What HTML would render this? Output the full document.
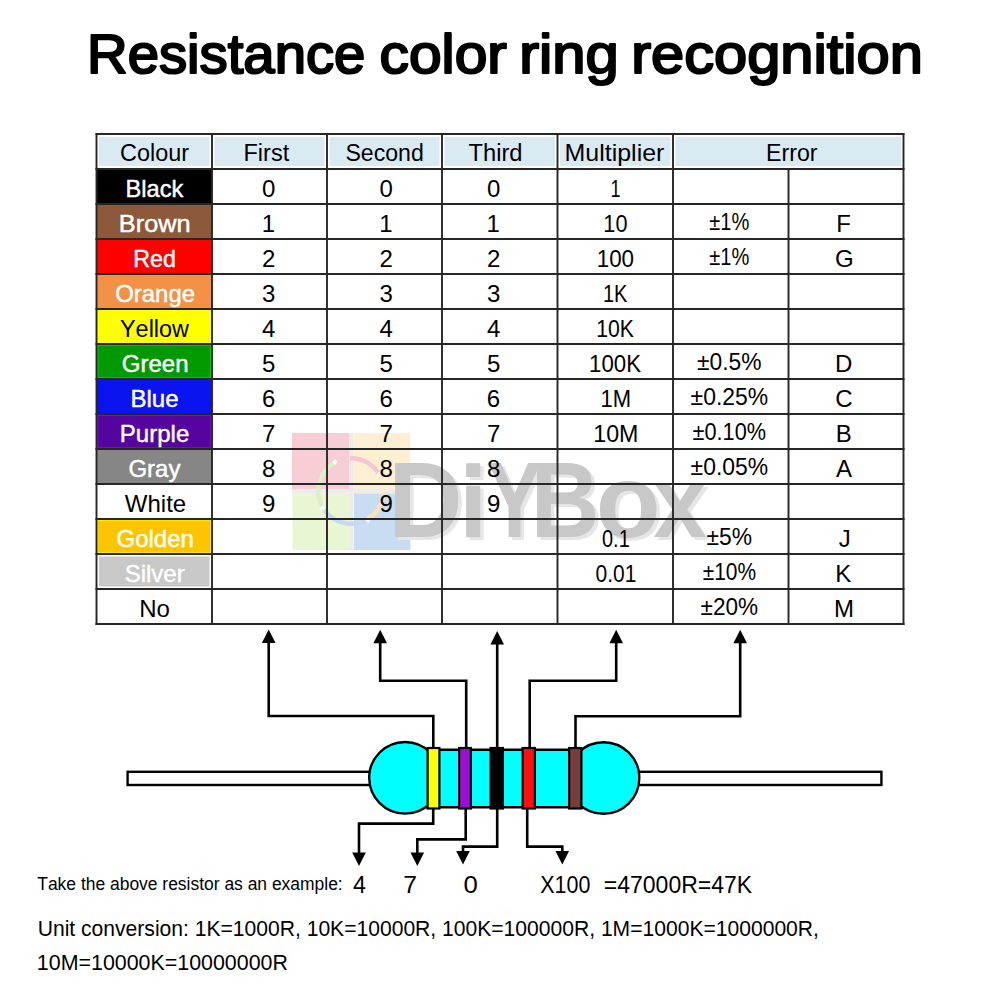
<!DOCTYPE html>
<html><head><meta charset="utf-8"><title>Resistance color ring recognition</title>
<style>
html,body{margin:0;padding:0;background:#fff;}
body{width:1000px;height:1000px;overflow:hidden;}
svg{display:block;font-family:"Liberation Sans",sans-serif;font-kerning:none;}
text{font-family:"Liberation Sans",sans-serif;}
</style></head><body>
<svg width="1000" height="1000" viewBox="0 0 1000 1000">
<rect width="1000" height="1000" fill="#fff"/>
<g id="cells">
<rect x="99.00" y="137.00" width="110.50" height="29.00" fill="#daeaf3"/>
<rect x="214.50" y="137.00" width="110.00" height="29.00" fill="#daeaf3"/>
<rect x="329.50" y="137.00" width="110.00" height="29.00" fill="#daeaf3"/>
<rect x="444.50" y="137.00" width="110.50" height="29.00" fill="#daeaf3"/>
<rect x="560.00" y="137.00" width="110.50" height="29.00" fill="#daeaf3"/>
<rect x="675.50" y="137.00" width="225.50" height="29.00" fill="#daeaf3"/>
<rect x="96.50" y="169.00" width="115.50" height="35.00" fill="#000000"/>
<rect x="96.50" y="204.00" width="115.50" height="35.00" fill="#8c5a3a"/>
<rect x="96.50" y="239.00" width="115.50" height="35.00" fill="#ff0000"/>
<rect x="96.50" y="274.00" width="115.50" height="35.00" fill="#f39247"/>
<rect x="96.50" y="309.00" width="115.50" height="35.00" fill="#ffff00"/>
<rect x="96.50" y="344.00" width="115.50" height="35.00" fill="#00d800"/>
<rect x="98.30" y="345.80" width="111.90" height="31.40" fill="#009a00"/>
<rect x="96.50" y="379.00" width="115.50" height="35.00" fill="#0a14f0"/>
<rect x="96.50" y="414.00" width="115.50" height="35.00" fill="#7a10e0"/>
<rect x="98.30" y="415.80" width="111.90" height="31.40" fill="#55049f"/>
<rect x="96.50" y="449.00" width="115.50" height="35.00" fill="#868686"/>
<rect x="96.50" y="484.00" width="115.50" height="35.00" fill="#ffffff"/>
<rect x="96.50" y="519.00" width="115.50" height="35.00" fill="#ffee00"/>
<rect x="98.30" y="520.80" width="111.90" height="31.40" fill="#ffc400"/>
<rect x="96.50" y="554.00" width="115.50" height="35.00" fill="#ffffff"/>
<rect x="99.00" y="556.50" width="110.50" height="30.00" fill="#c8c8c8"/>
<rect x="96.50" y="589.00" width="115.50" height="35.00" fill="#ffffff"/>
</g>
<g id="wm">
<rect x="349" y="433" width="4.5" height="117" fill="#ececec"/>
<rect x="292" y="489" width="118.5" height="4.5" fill="#ececec"/>
<rect x="292" y="433" width="57" height="56" fill="#f7cdd6"/>
<rect x="353.5" y="433" width="56.5" height="56" fill="#fdefd2"/>
<rect x="292.5" y="493.5" width="57" height="56.5" fill="#e9f6d3"/>
<rect x="354" y="493.5" width="56.5" height="56.5" fill="#c9ddf2"/>
<path d="M349.86 458.32 A32.70 32.70 0 0 1 379.32 474.65" stroke="#f6c6d2" stroke-width="4.5" fill="none"/>
<path d="M322.97 507.84 A32.70 32.70 0 0 1 335.15 462.40" stroke="#ddefc6" stroke-width="4.5" fill="none"/>
<path d="M367.35 519.32 A32.70 32.70 0 0 1 322.97 507.84" stroke="#c6d9ef" stroke-width="4.5" fill="none"/>
<path d="M383.68 492.14 A32.70 32.70 0 0 1 367.35 519.32" stroke="#fbe4bd" stroke-width="4.5" fill="none"/>
<rect x="333.0" y="460.0" width="4" height="4" fill="#fff" transform="rotate(35 335.0 462.0)"/>
<rect x="377.0" y="472.5" width="4" height="4" fill="#fff" transform="rotate(35 379.0 474.5)"/>
<rect x="321.0" y="506.0" width="4" height="4" fill="#fff" transform="rotate(35 323.0 508.0)"/>
<rect x="366.0" y="518.0" width="4" height="4" fill="#fff" transform="rotate(35 368.0 520.0)"/>
<text transform="translate(391.72 540.20) scale(0.05024 0.05252)" font-size="2048" font-weight="bold" fill="#e6e6e6">D</text>
<rect x="469.70" y="466.20" width="14" height="13.8" fill="#e6e6e6"/>
<rect x="469.70" y="488.75" width="14" height="51.45" fill="#e6e6e6"/>
<text transform="translate(490.59 540.20) scale(0.04029 0.05252)" font-size="2048" font-weight="bold" fill="#e6e6e6">Y</text>
<text transform="translate(534.33 540.20) scale(0.04652 0.05252)" font-size="2048" font-weight="bold" fill="#e6e6e6">B</text>
<text transform="translate(599.36 539.78) scale(0.05179 0.05080)" font-size="2048" font-weight="bold" fill="#e6e6e6">o</text>
<text transform="translate(656.84 540.20) scale(0.04685 0.04843)" font-size="2048" font-weight="bold" fill="#e6e6e6">x</text>
<text transform="translate(388.22 537.20) scale(0.05024 0.05252)" font-size="2048" font-weight="bold" fill="#c8c8c8">D</text>
<rect x="466.20" y="463.20" width="14" height="13.8" fill="#c8c8c8"/>
<rect x="466.20" y="485.75" width="14" height="51.45" fill="#c8c8c8"/>
<text transform="translate(487.09 537.20) scale(0.04029 0.05252)" font-size="2048" font-weight="bold" fill="#c8c8c8">Y</text>
<text transform="translate(530.83 537.20) scale(0.04652 0.05252)" font-size="2048" font-weight="bold" fill="#c8c8c8">B</text>
<text transform="translate(595.86 536.78) scale(0.05179 0.05080)" font-size="2048" font-weight="bold" fill="#c8c8c8">o</text>
<text transform="translate(653.34 537.20) scale(0.04685 0.04843)" font-size="2048" font-weight="bold" fill="#c8c8c8">x</text>
</g>
<g stroke="#262626" stroke-width="1.9"><line x1="95.50" y1="134.00" x2="904.50" y2="134.00"/>
<line x1="95.50" y1="169.00" x2="904.50" y2="169.00"/>
<line x1="95.50" y1="204.00" x2="904.50" y2="204.00"/>
<line x1="95.50" y1="239.00" x2="904.50" y2="239.00"/>
<line x1="95.50" y1="274.00" x2="904.50" y2="274.00"/>
<line x1="95.50" y1="309.00" x2="904.50" y2="309.00"/>
<line x1="95.50" y1="344.00" x2="904.50" y2="344.00"/>
<line x1="95.50" y1="379.00" x2="904.50" y2="379.00"/>
<line x1="95.50" y1="414.00" x2="904.50" y2="414.00"/>
<line x1="95.50" y1="449.00" x2="904.50" y2="449.00"/>
<line x1="95.50" y1="484.00" x2="904.50" y2="484.00"/>
<line x1="95.50" y1="519.00" x2="904.50" y2="519.00"/>
<line x1="95.50" y1="554.00" x2="904.50" y2="554.00"/>
<line x1="95.50" y1="589.00" x2="904.50" y2="589.00"/>
<line x1="95.50" y1="624.00" x2="904.50" y2="624.00"/>
<line x1="96.50" y1="133.00" x2="96.50" y2="625.00"/>
<line x1="212.00" y1="133.00" x2="212.00" y2="625.00"/>
<line x1="327.00" y1="133.00" x2="327.00" y2="625.00"/>
<line x1="442.00" y1="133.00" x2="442.00" y2="625.00"/>
<line x1="557.50" y1="133.00" x2="557.50" y2="625.00"/>
<line x1="673.00" y1="133.00" x2="673.00" y2="625.00"/>
<line x1="788.50" y1="169.00" x2="788.50" y2="624.00"/>
<line x1="903.50" y1="133.00" x2="903.50" y2="625.00"/></g>
<g id="text">
<text transform="translate(87.08 72.50) scale(1.0011 1)" font-size="56.20" font-weight="normal" fill="#000" stroke="#000" stroke-width="2.2" stroke-linejoin="round">Resistance</text>
<text transform="translate(379.61 72.50) scale(1.0448 1)" font-size="56.20" font-weight="normal" fill="#000" stroke="#000" stroke-width="2.2" stroke-linejoin="round">color</text>
<text transform="translate(519.13 72.50) scale(1.0630 1)" font-size="56.20" font-weight="normal" fill="#000" stroke="#000" stroke-width="2.2" stroke-linejoin="round">ring</text>
<text transform="translate(631.14 72.50) scale(1.0615 1)" font-size="56.20" font-weight="normal" fill="#000" stroke="#000" stroke-width="2.2" stroke-linejoin="round">recognition</text>
<text transform="translate(120.06 161.30) scale(0.9771 1)" font-size="24.00" font-weight="normal" fill="#000">Colour</text>
<text transform="translate(243.47 161.30) scale(0.9796 1)" font-size="24.00" font-weight="normal" fill="#000">First</text>
<text transform="translate(345.45 161.30) scale(0.9637 1)" font-size="24.00" font-weight="normal" fill="#000">Second</text>
<text transform="translate(468.47 161.30) scale(0.9887 1)" font-size="24.00" font-weight="normal" fill="#000">Third</text>
<text transform="translate(564.55 161.30) scale(1.0400 1)" font-size="24.00" font-weight="normal" fill="#000">Multiplier</text>
<text transform="translate(766.10 161.30) scale(0.9654 1)" font-size="24.00" font-weight="normal" fill="#000">Error</text>
<text transform="translate(125.56 197.30) scale(0.9850 1)" font-size="24.00" font-weight="normal" fill="#fff" stroke="#fff" stroke-width="0.45">Black</text>
<text transform="translate(118.82 232.30) scale(1.0574 1)" font-size="24.00" font-weight="normal" fill="#fff" stroke="#fff" stroke-width="0.45">Brown</text>
<text transform="translate(133.29 267.30) scale(0.9676 1)" font-size="24.00" font-weight="normal" fill="#fff" stroke="#fff" stroke-width="0.45">Red</text>
<text transform="translate(115.17 302.30) scale(0.9981 1)" font-size="24.00" font-weight="normal" fill="#fff" stroke="#fff" stroke-width="0.45">Orange</text>
<text transform="translate(119.98 337.30) scale(0.9768 1)" font-size="24.00" font-weight="normal" fill="#000">Yellow</text>
<text transform="translate(121.82 372.30)" font-size="24.00" font-weight="normal" fill="#fff" stroke="#fff" stroke-width="0.45">Green</text>
<text transform="translate(130.53 407.30)" font-size="24.00" font-weight="normal" fill="#fff" stroke="#fff" stroke-width="0.45">Blue</text>
<text transform="translate(119.86 442.30)" font-size="24.00" font-weight="normal" fill="#fff" stroke="#fff" stroke-width="0.45">Purple</text>
<text transform="translate(128.42 477.30)" font-size="24.00" font-weight="normal" fill="#fff" stroke="#fff" stroke-width="0.45">Gray</text>
<text transform="translate(124.81 512.30)" font-size="24.00" font-weight="normal" fill="#000">White</text>
<text transform="translate(116.48 547.30)" font-size="24.00" font-weight="normal" fill="#fff" stroke="#fff" stroke-width="0.45">Golden</text>
<text transform="translate(124.65 582.30)" font-size="24.00" font-weight="normal" fill="#fff" stroke="#fff" stroke-width="0.45">Silver</text>
<text transform="translate(139.18 617.30)" font-size="24.00" font-weight="normal" fill="#000">No</text>
<text transform="translate(262.03 197.30)" font-size="24.00" font-weight="normal" fill="#000">0</text>
<text transform="translate(379.53 197.30)" font-size="24.00" font-weight="normal" fill="#000">0</text>
<text transform="translate(486.93 197.30)" font-size="24.00" font-weight="normal" fill="#000">0</text>
<text transform="translate(610.52 196.60) scale(0.7538 1)" font-size="24.00" font-weight="normal" fill="#000">1</text>
<text transform="translate(261.70 232.30)" font-size="24.00" font-weight="normal" fill="#000">1</text>
<text transform="translate(379.20 232.30)" font-size="24.00" font-weight="normal" fill="#000">1</text>
<text transform="translate(486.60 232.30)" font-size="24.00" font-weight="normal" fill="#000">1</text>
<text transform="translate(603.35 231.60) scale(0.9026 1)" font-size="24.00" font-weight="normal" fill="#000">10</text>
<text transform="translate(709.31 229.60) scale(0.8369 1)" font-size="24.00" font-weight="normal" fill="#000">±1%</text>
<text transform="translate(836.17 232.30)" font-size="24.00" font-weight="normal" fill="#000">F</text>
<text transform="translate(262.03 267.30)" font-size="24.00" font-weight="normal" fill="#000">2</text>
<text transform="translate(379.53 267.30)" font-size="24.00" font-weight="normal" fill="#000">2</text>
<text transform="translate(486.93 267.30)" font-size="24.00" font-weight="normal" fill="#000">2</text>
<text transform="translate(596.69 266.60) scale(0.9335 1)" font-size="24.00" font-weight="normal" fill="#000">100</text>
<text transform="translate(709.31 264.60) scale(0.8369 1)" font-size="24.00" font-weight="normal" fill="#000">±1%</text>
<text transform="translate(834.96 267.30)" font-size="24.00" font-weight="normal" fill="#000">G</text>
<text transform="translate(262.10 302.30)" font-size="24.00" font-weight="normal" fill="#000">3</text>
<text transform="translate(379.60 302.30)" font-size="24.00" font-weight="normal" fill="#000">3</text>
<text transform="translate(487.00 302.30)" font-size="24.00" font-weight="normal" fill="#000">3</text>
<text transform="translate(602.90 301.60) scale(0.8346 1)" font-size="24.00" font-weight="normal" fill="#000">1K</text>
<text transform="translate(262.10 337.30)" font-size="24.00" font-weight="normal" fill="#000">4</text>
<text transform="translate(379.60 337.30)" font-size="24.00" font-weight="normal" fill="#000">4</text>
<text transform="translate(487.00 337.30)" font-size="24.00" font-weight="normal" fill="#000">4</text>
<text transform="translate(596.23 336.60) scale(0.8841 1)" font-size="24.00" font-weight="normal" fill="#000">10K</text>
<text transform="translate(262.05 372.30)" font-size="24.00" font-weight="normal" fill="#000">5</text>
<text transform="translate(379.55 372.30)" font-size="24.00" font-weight="normal" fill="#000">5</text>
<text transform="translate(486.95 372.30)" font-size="24.00" font-weight="normal" fill="#000">5</text>
<text transform="translate(589.11 371.60) scale(0.9267 1)" font-size="24.00" font-weight="normal" fill="#000">100K</text>
<text transform="translate(697.08 369.60) scale(0.9508 1)" font-size="24.00" font-weight="normal" fill="#000">±0.5%</text>
<text transform="translate(834.92 372.30)" font-size="24.00" font-weight="normal" fill="#000">D</text>
<text transform="translate(261.94 407.30)" font-size="24.00" font-weight="normal" fill="#000">6</text>
<text transform="translate(379.44 407.30)" font-size="24.00" font-weight="normal" fill="#000">6</text>
<text transform="translate(486.84 407.30)" font-size="24.00" font-weight="normal" fill="#000">6</text>
<text transform="translate(600.57 406.60) scale(0.9173 1)" font-size="24.00" font-weight="normal" fill="#000">1M</text>
<text transform="translate(690.57 404.60) scale(0.9547 1)" font-size="24.00" font-weight="normal" fill="#000">±0.25%</text>
<text transform="translate(835.18 407.30)" font-size="24.00" font-weight="normal" fill="#000">C</text>
<text transform="translate(262.01 442.30)" font-size="24.00" font-weight="normal" fill="#000">7</text>
<text transform="translate(379.51 442.30)" font-size="24.00" font-weight="normal" fill="#000">7</text>
<text transform="translate(486.91 442.30)" font-size="24.00" font-weight="normal" fill="#000">7</text>
<text transform="translate(593.28 441.60) scale(0.9676 1)" font-size="24.00" font-weight="normal" fill="#000">10M</text>
<text transform="translate(692.61 439.60) scale(0.9045 1)" font-size="24.00" font-weight="normal" fill="#000">±0.10%</text>
<text transform="translate(835.64 442.30)" font-size="24.00" font-weight="normal" fill="#000">B</text>
<text transform="translate(262.03 477.30)" font-size="24.00" font-weight="normal" fill="#000">8</text>
<text transform="translate(379.53 477.30)" font-size="24.00" font-weight="normal" fill="#000">8</text>
<text transform="translate(486.93 477.30)" font-size="24.00" font-weight="normal" fill="#000">8</text>
<text transform="translate(690.57 474.60) scale(0.9547 1)" font-size="24.00" font-weight="normal" fill="#000">±0.05%</text>
<text transform="translate(836.00 477.30)" font-size="24.00" font-weight="normal" fill="#000">A</text>
<text transform="translate(262.03 512.30)" font-size="24.00" font-weight="normal" fill="#000">9</text>
<text transform="translate(379.53 512.30)" font-size="24.00" font-weight="normal" fill="#000">9</text>
<text transform="translate(486.93 512.30)" font-size="24.00" font-weight="normal" fill="#000">9</text>
<text transform="translate(602.02 546.60) scale(0.8319 1)" font-size="24.00" font-weight="normal" fill="#000">0.1</text>
<text transform="translate(706.58 544.60) scale(0.9515 1)" font-size="24.00" font-weight="normal" fill="#000">±5%</text>
<text transform="translate(838.70 547.30)" font-size="24.00" font-weight="normal" fill="#000">J</text>
<text transform="translate(595.48 581.60) scale(0.8744 1)" font-size="24.00" font-weight="normal" fill="#000">0.01</text>
<text transform="translate(702.64 579.60) scale(0.8726 1)" font-size="24.00" font-weight="normal" fill="#000">±10%</text>
<text transform="translate(835.15 582.30)" font-size="24.00" font-weight="normal" fill="#000">K</text>
<text transform="translate(700.58 614.60) scale(0.9398 1)" font-size="24.00" font-weight="normal" fill="#000">±20%</text>
<text transform="translate(834.00 617.30)" font-size="24.00" font-weight="normal" fill="#000">M</text>
<text transform="translate(37.26 889.75) scale(0.9439 1)" font-size="18.50" font-weight="normal" fill="#000">Take the above resistor as an example:</text>
<text transform="translate(352.96 892.50) scale(0.9440 1)" font-size="24.70" font-weight="normal" fill="#000">4</text>
<text transform="translate(403.23 892.50) scale(1.0019 1)" font-size="24.70" font-weight="normal" fill="#000">7</text>
<text transform="translate(463.49 892.50) scale(1.0417 1)" font-size="24.70" font-weight="normal" fill="#000">0</text>
<text transform="translate(540.32 892.50) scale(0.8671 1)" font-size="24.70" font-weight="normal" fill="#000">X100</text>
<text transform="translate(603.78 892.50) scale(0.9320 1)" font-size="24.70" font-weight="normal" fill="#000">=47000R=47K</text>
<text transform="translate(37.72 936.40) scale(0.9503 1)" font-size="22.20" font-weight="normal" fill="#000">Unit conversion: 1K=1000R, 10K=10000R, 100K=100000R, 1M=1000K=1000000R,</text>
<text transform="translate(36.87 970.40) scale(0.9642 1)" font-size="22.20" font-weight="normal" fill="#000">10M=10000K=10000000R</text>
</g>
<g id="res">
<rect x="127.6" y="771.8" width="270" height="13.2" fill="#fff" stroke="#000" stroke-width="2.4"/>
<rect x="610" y="771.8" width="271.4" height="13.2" fill="#fff" stroke="#000" stroke-width="2.4"/>
<circle cx="405" cy="777.8" r="35.8" fill="#00ffff" stroke="#000" stroke-width="2.4"/>
<circle cx="603.5" cy="778" r="35.8" fill="#00ffff" stroke="#000" stroke-width="2.4"/>
<rect x="426" y="749.8" width="157" height="57.4" fill="#00ffff"/>
<line x1="426" y1="749.8" x2="583" y2="749.8" stroke="#000" stroke-width="2.4"/>
<line x1="426" y1="807.2" x2="583" y2="807.2" stroke="#000" stroke-width="2.4"/>
<rect x="427.60" y="748" width="11.80" height="60.5" fill="#ffff00" stroke="#000" stroke-width="2.2"/>
<rect x="459.10" y="748" width="11.80" height="60.5" fill="#9b0fd0" stroke="#000" stroke-width="2.2"/>
<rect x="490.60" y="748" width="12.30" height="60.5" fill="#000000" stroke="#000" stroke-width="2.2"/>
<rect x="522.60" y="748" width="12.30" height="60.5" fill="#ff1010" stroke="#000" stroke-width="2.2"/>
<rect x="569.10" y="748" width="12.30" height="60.5" fill="#7a3c3a" stroke="#000" stroke-width="2.2"/>
<polyline points="433.30,747.00 433.30,716.00 268.70,716.00 268.70,640.00" fill="none" stroke="#000" stroke-width="2.60" stroke-linejoin="miter"/>
<path d="M268.70 629.50 L261.90 643.00 L275.50 643.00 Z" fill="#000"/>
<polyline points="466.20,747.00 466.20,680.70 380.20,680.70 380.20,640.00" fill="none" stroke="#000" stroke-width="2.60" stroke-linejoin="miter"/>
<path d="M380.20 629.70 L373.40 643.20 L387.00 643.20 Z" fill="#000"/>
<polyline points="497.20,747.00 497.20,640.00" fill="none" stroke="#000" stroke-width="2.60" stroke-linejoin="miter"/>
<path d="M497.20 631.00 L490.40 644.50 L504.00 644.50 Z" fill="#000"/>
<polyline points="529.70,747.00 529.70,680.70 616.20,680.70 616.20,640.00" fill="none" stroke="#000" stroke-width="2.60" stroke-linejoin="miter"/>
<path d="M616.20 629.70 L609.40 643.20 L623.00 643.20 Z" fill="#000"/>
<polyline points="575.50,747.00 575.50,716.20 740.20,716.20 740.20,640.00" fill="none" stroke="#000" stroke-width="2.60" stroke-linejoin="miter"/>
<path d="M740.20 629.70 L733.40 643.20 L747.00 643.20 Z" fill="#000"/>
<polyline points="433.20,809.00 433.20,823.60 359.00,823.60 359.00,855.00" fill="none" stroke="#000" stroke-width="2.60" stroke-linejoin="miter"/>
<path d="M359.00 866.00 L352.20 852.50 L365.80 852.50 Z" fill="#000"/>
<polyline points="465.70,809.00 465.70,839.40 417.30,839.40 417.30,855.00" fill="none" stroke="#000" stroke-width="2.60" stroke-linejoin="miter"/>
<path d="M417.30 866.00 L410.50 852.50 L424.10 852.50 Z" fill="#000"/>
<polyline points="497.20,809.00 497.20,846.60 463.00,846.60 463.00,853.00" fill="none" stroke="#000" stroke-width="2.60" stroke-linejoin="miter"/>
<path d="M463.00 864.50 L456.20 851.00 L469.80 851.00 Z" fill="#000"/>
<polyline points="527.20,809.00 527.20,846.60 562.30,846.60 562.30,853.00" fill="none" stroke="#000" stroke-width="2.60" stroke-linejoin="miter"/>
<path d="M562.30 864.50 L555.50 851.00 L569.10 851.00 Z" fill="#000"/>
</g>
</svg>
</body></html>
